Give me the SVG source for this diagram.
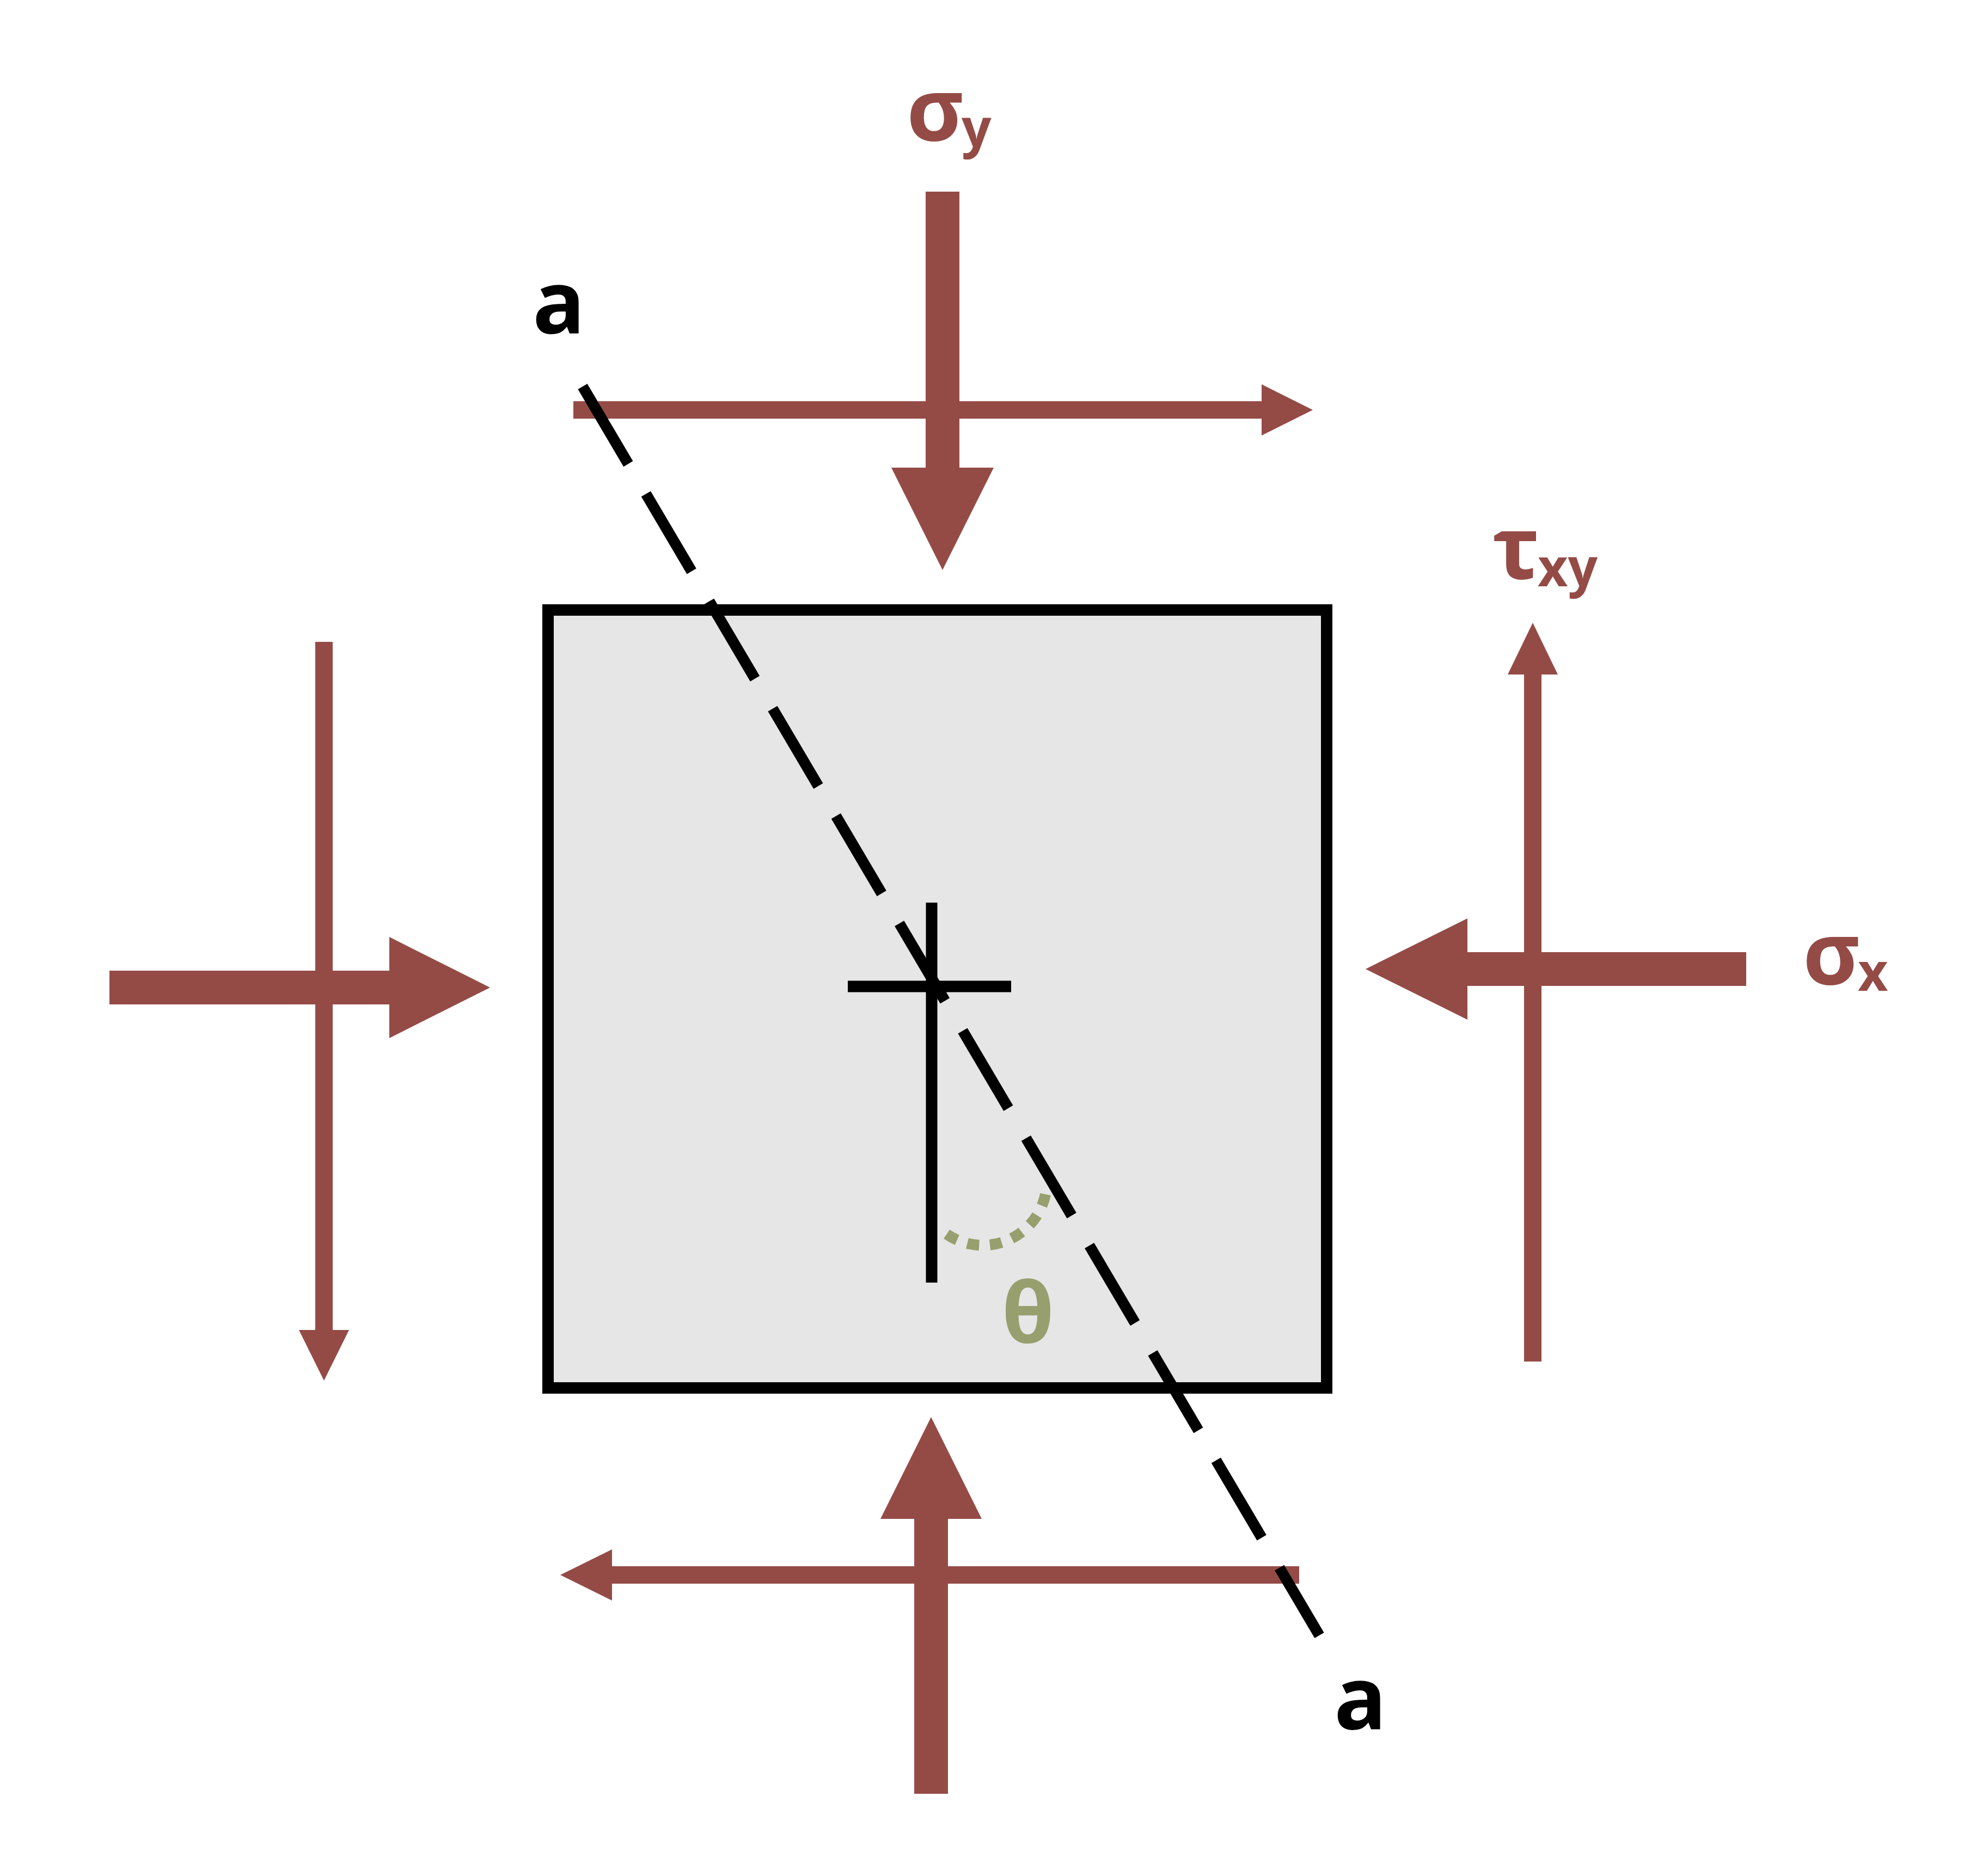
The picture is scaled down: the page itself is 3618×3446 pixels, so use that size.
<svg xmlns="http://www.w3.org/2000/svg" width="3618" height="3446" viewBox="0 0 3618 3446">
<style>
.frc{fill:#944b46}
.lbl{font-family:"Open Sans","DejaVu Sans",sans-serif;font-weight:bold}
.red{fill:#944b46}
.blk{fill:#000}
.ln{stroke:#000;stroke-width:21;fill:none}
</style>
<rect width="3618" height="3446" fill="#fff"/>
<g id="element">
<rect x="1006.5" y="1120.5" width="1430" height="1429" fill="#e6e6e6" stroke="#000" stroke-width="21"/>
</g>
<g id="connectors">
<polygon id="sigma-y-top" class="frc" points="1700,352 1762,352 1762,859 1825,859 1731,1047 1637,859 1700,859"/>
<polygon id="tau-top" class="frc" points="1053,737 2317,737 2317,706 2411,753 2317,800 2317,769 1053,769"/>
<polygon id="sigma-x-left" class="frc" points="201,1783 715,1783 715,1721 900,1814 715,1907 715,1845 201,1845"/>
<polygon id="tau-left" class="frc" points="579,1179 611,1179 611,2443 641,2443 595,2536 549,2443 579,2443"/>
<polygon id="sigma-x-right" class="frc" points="3207,1749 2695,1749 2695,1687 2508,1780 2695,1873 2695,1811 3207,1811"/>
<polygon id="tau-right" class="frc" points="2799,2501 2799,1239 2769,1239 2815,1144 2861,1239 2831,1239 2831,2501"/>
<polygon id="sigma-y-bottom" class="frc" points="1679,3295 1679,2790 1617,2790 1710,2603 1803,2790 1741,2790 1741,3295"/>
<polygon id="tau-bottom" class="frc" points="2386,2877 1124,2877 1124,2846 1029,2893 1124,2940 1124,2909 2386,2909"/>
<g id="crosshair">
<line class="ln" x1="1711" y1="1658" x2="1711" y2="2356"/>
<line class="ln" x1="1557" y1="1812" x2="1857" y2="1812"/>
</g>
<line id="plane-aa" x1="1070" y1="710" x2="2423" y2="3004" stroke="#000" stroke-width="20" stroke-dasharray="165 64"/>
<path id="theta-arc" d="M1738.6 2266.9 A117.5 117.5 0 0 0 1920.1 2193.6" fill="none" stroke="#989f6e" stroke-width="20" stroke-dasharray="22 19.8"/>
</g>
<g id="labels">
<text class="lbl red" font-size="160" x="1665" y="258">σ<tspan x="1766" y="270" font-size="96">y</tspan></text>
<text class="lbl red" font-size="160" x="2741" y="1063">τ<tspan x="2824" y="1077" font-size="96">xy</tspan></text>
<text class="lbl red" font-size="160" x="3311" y="1808">σ<tspan x="3412" y="1820" font-size="96">x</tspan></text>
<text class="lbl blk" font-size="160" x="978" y="612">a</text>
<text class="lbl blk" font-size="160" x="2450" y="3176">a</text>
<text class="lbl" font-size="155" fill="#989f6e" x="1888" y="2466" text-anchor="middle">θ</text>
</g>
</svg>
